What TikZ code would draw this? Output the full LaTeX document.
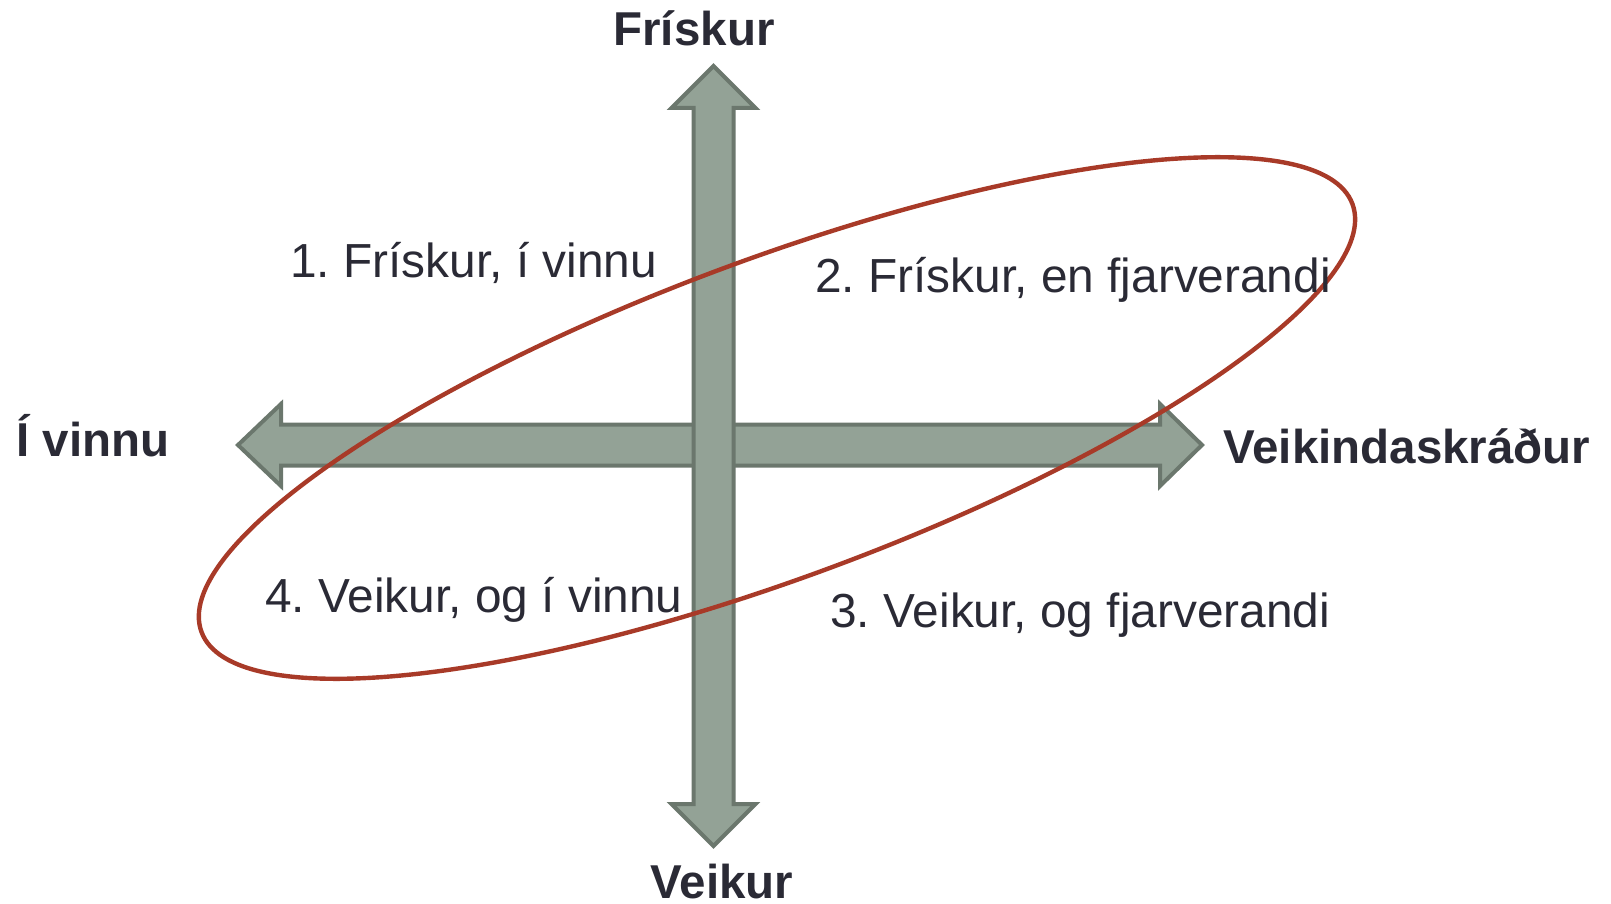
\documentclass[tikz,border=0pt]{standalone}
\usepackage{fontspec}
\setmainfont{Liberation Sans}
\usepackage{tikz}
\definecolor{AxisFill}{HTML}{93A296}
\definecolor{AxisEdge}{HTML}{6B776D}
\definecolor{RingRed}{HTML}{A83A28}
\definecolor{LabelInk}{HTML}{2A2A35}
\usetikzlibrary{positioning, calc}
\frenchspacing
\tikzset{
  % Axis styles
  axisbar/.style={draw=AxisEdge, fill=AxisFill, line width=2pt, line join=miter},
  ringline/.style={draw=RingRed, line width=2.2pt},
  % Text styles
  axislabel/.style={font=\bfseries\fontsize{23.75}{28}\selectfont, text=LabelInk, inner sep=0pt},
  quadlabel/.style={font=\fontsize{23.9}{28}\selectfont, text=LabelInk, inner sep=0pt}
}

\begin{document}
\begin{tikzpicture}[x=0.5pt, y=-0.5pt]
  \useasboundingbox (0,0) rectangle (1611,904);

  % Horizontal axis: i vinnu <-> veikindaskradur
  \draw[axisbar] (238,445) -- (281,404) -- (281,424.5) -- (1160,424.5) -- (1160,404) -- (1202,445)
    -- (1160,486) -- (1160,465.5) -- (281,465.5) -- (281,486) -- cycle;

  % Vertical axis: friskur <-> veikur
  \draw[axisbar] (713.5,66) -- (755.5,108) -- (733.5,108) -- (733.5,804) -- (755.5,804) -- (713.5,846)
    -- (671.5,804) -- (693.5,804) -- (693.5,108) -- (671.5,108) -- cycle;

  % Ellipse round quadrants 2 and 4
  \coordinate (mid) at (777,418);
  \draw[ringline, rotate around={20.4:(mid)}] (mid) ellipse [x radius=614, y radius=159];

  % Axis labels
  \node[axislabel, anchor=base] (friskur) at (694,46) {Frískur};
  \node[axislabel, anchor=base] (veikur) at (722,898) {Veikur};
  \node[axislabel, anchor=base west] (ivinnu) at (16,456) {Í vinnu};
  \node[axislabel, anchor=base west] (skradur) at (1223,463) {Veikindaskráður};

  % Quadrant labels
  \node[quadlabel, anchor=base west] (quad1) at (290,277) {1. Frískur, í vinnu};
  \node[quadlabel, anchor=base west] (quad2) at (815,292) {2. Frískur, en fjarverandi};
  \node[quadlabel, anchor=base west] (quad3) at (830,627) {3. Veikur, og fjarverandi};
  \node[quadlabel, anchor=base west] (quad4) at (265,612) {4. Veikur, og í vinnu};
\end{tikzpicture}
\end{document}
